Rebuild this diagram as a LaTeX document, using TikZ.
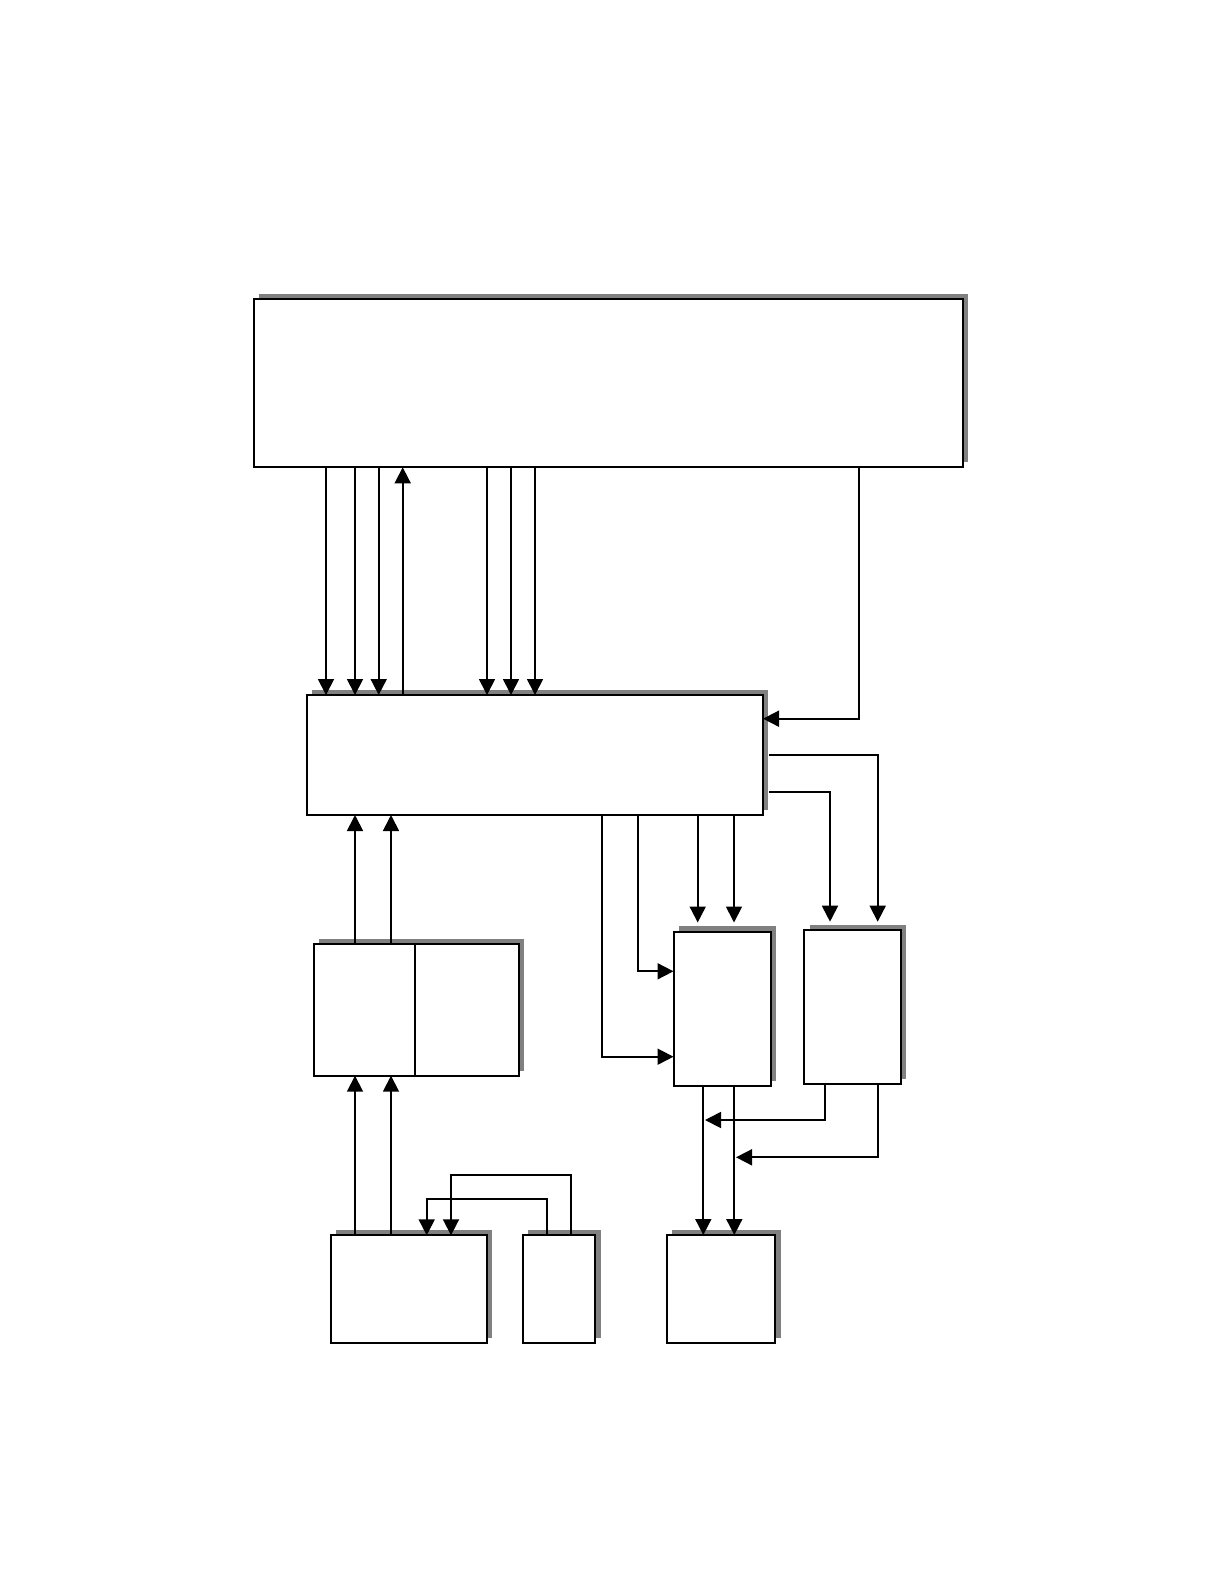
\documentclass[tikz,border=0pt]{standalone}
\usetikzlibrary{arrows.meta,fit,shadows}
\begin{document}
\begin{tikzpicture}[x=0.5pt,y=-0.5pt,
 box/.style={draw=black, line width=1pt, fill=white, inner sep=0pt, outer sep=0pt, rectangle,
   drop shadow={shadow xshift=2.6pt, shadow yshift=2.6pt, fill=black!50, opacity=1}},
 conn/.style={line width=0.9pt},
 arr/.style={conn, -{Triangle[length=8pt,width=8pt]}}]
\useasboundingbox[fill=white] (0,0) rectangle (1224,1584);
% boxes
\node[box, fit={(253.7,299.3) (962.5,467.3)}] (top) {};
\node[box, fit={(307,695) (763,815)}] (mid) {};
\node[box, fit={(313.7,943.7) (415,1075.7)}] (SL) {};
\node[box, fit={(415,943.7) (518.7,1075.7)}] (SR) {};
\node[box, fit={(673.5,931.5) (770.7,1085.7)}] (A) {};
\node[box, fit={(804.3,930.3) (900.7,1084.3)}] (B) {};
\node[box, fit={(330.7,1235.3) (487,1342.7)}] (BL) {};
\node[box, fit={(522.7,1235.3) (595.3,1342.7)}] (BS) {};
\node[box, fit={(666.7,1235) (775.3,1343.3)}] (BR) {};
% top -> mid
\foreach \x in {326,355,378.7,487,511,535}
  \draw[arr] (\x,0 |- top.south) -- (\x,0 |- mid.north);
\draw[arr] (402.7,0 |- mid.north) -- (402.7,0 |- top.south);
\draw[arr] (859,0 |- top.south) |- (mid.east |- 0,718.7);
% mid -> B
\draw[arr] ([xshift=3pt]mid.east |- 0,755) -| ([yshift=4.3pt]877.7,0 |- B.north);
\draw[arr] ([xshift=3pt]mid.east |- 0,791.7) -| ([yshift=4.3pt]830,0 |- B.north);
% mid -> A
\draw[arr] (697.7,0 |- mid.south) -- ([yshift=4.5pt]697.7,0 |- A.north);
\draw[arr] (734,0 |- mid.south) -- ([yshift=4.5pt]734,0 |- A.north);
\draw[arr] (638,0 |- mid.south) |- (A.west |- 0,971.3);
\draw[arr] (602,0 |- mid.south) |- (A.west |- 0,1056.7);
% split -> mid
\draw[arr] (355,0 |- SL.north) -- (355,0 |- mid.south);
\draw[arr] (391,0 |- SL.north) -- (391,0 |- mid.south);
% BL -> split
\draw[arr] (355,0 |- BL.north) -- (355,0 |- SL.south);
\draw[arr] (391,0 |- BL.north) -- (391,0 |- SL.south);
% BS -> BL
\draw[arr] (547,0 |- BS.north) -- (547,1199.3) -| (426.7,0 |- BL.north);
\draw[arr] (571,0 |- BS.north) -- (571,1175.3) -| (451,0 |- BL.north);
% A -> BR
\draw[arr] (703.3,0 |- A.south) -- (703.3,0 |- BR.north);
\draw[arr] (734.3,0 |- A.south) -- (734.3,0 |- BR.north);
% B -> lines
\draw[arr] (825.3,0 |- B.south) |- (705,1120);
\draw[arr] (878,0 |- B.south) |- (736,1157.3);
\end{tikzpicture}
\end{document}
